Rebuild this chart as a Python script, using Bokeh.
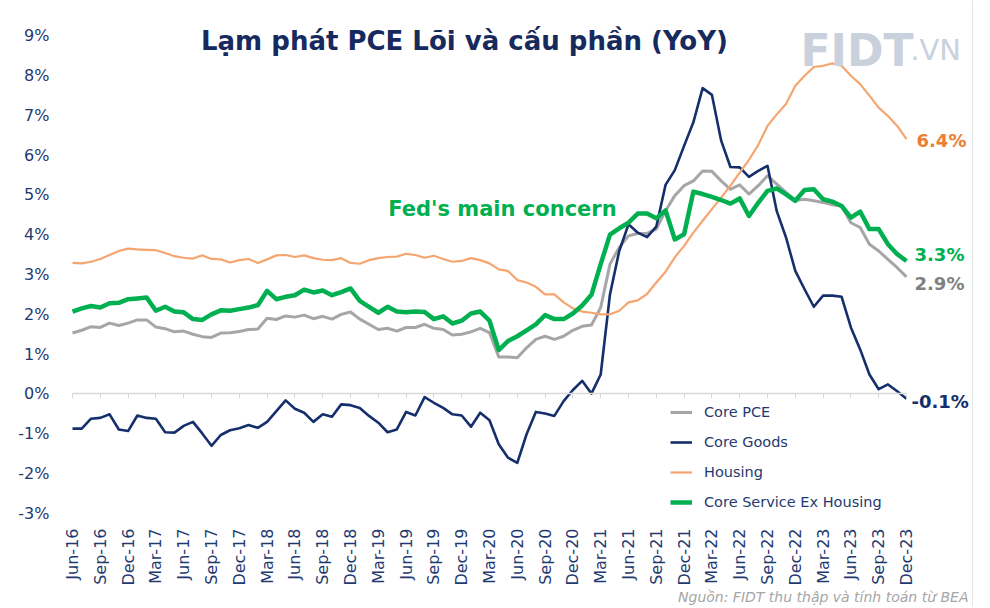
import math
from bokeh.plotting import figure
from bokeh.models import (ColumnDataSource, Range1d, FixedTicker, LinearAxis, Legend,
                          LegendItem, Label, PrintfTickFormatter, Span)
from bokeh.core.properties import value
from bokeh.embed import file_html
from bokeh.resources import INLINE

# ---------------- data (monthly, Jun-16 .. Dec-23, YoY %) ----------------
tick_labels = ["Jun-16", "Sep-16", "Dec-16", "Mar-17", "Jun-17", "Sep-17", "Dec-17",
               "Mar-18", "Jun-18", "Sep-18", "Dec-18", "Mar-19", "Jun-19", "Sep-19",
               "Dec-19", "Mar-20", "Jun-20", "Sep-20", "Dec-20", "Mar-21", "Jun-21",
               "Sep-21", "Dec-21", "Mar-22", "Jun-22", "Sep-22", "Dec-22", "Mar-23",
               "Jun-23", "Sep-23", "Dec-23"]

core_pce = [1.53, 1.60, 1.69, 1.67, 1.78, 1.72, 1.78, 1.86, 1.86, 1.68, 1.64, 1.56, 1.58, 1.50,
            1.44, 1.42, 1.53, 1.54, 1.57, 1.62, 1.63, 1.90, 1.87, 1.96, 1.93, 1.98, 1.89, 1.95,
            1.88, 2.00, 2.06, 1.88, 1.75, 1.62, 1.65, 1.58, 1.67, 1.67, 1.75, 1.65, 1.62, 1.48,
            1.50, 1.56, 1.65, 1.54, 0.93, 0.93, 0.91, 1.16, 1.37, 1.45, 1.37, 1.45, 1.60, 1.70,
            1.73, 2.17, 3.26, 3.68, 3.97, 4.03, 4.03, 4.14, 4.60, 4.98, 5.23, 5.35, 5.60, 5.59,
            5.35, 5.14,
            5.25, 5.02, 5.23, 5.48, 5.27, 5.06, 4.86, 4.89, 4.85, 4.81, 4.75, 4.72, 4.30, 4.18,
            3.76, 3.59, 3.38, 3.17, 2.94]

core_goods = [-0.87, -0.87, -0.62, -0.60, -0.51, -0.89, -0.93, -0.54, -0.60, -0.62, -0.96, -0.97,
              -0.80, -0.70, -0.99, -1.30, -1.03, -0.91, -0.86, -0.78, -0.85, -0.70, -0.43, -0.16,
              -0.37, -0.47, -0.70, -0.51,
              -0.57, -0.26, -0.28, -0.35, -0.55, -0.72, -0.96, -0.89, -0.45, -0.54, -0.08, -0.22,
              -0.35, -0.51, -0.54, -0.82, -0.47, -0.66, -1.26, -1.60, -1.73, -1.01, -0.45, -0.49,
              -0.55, -0.18, 0.10, 0.33,
              0.01, 0.49, 2.50, 3.59, 4.26, 4.05, 3.94, 4.20, 5.25, 5.62, 6.23, 6.82, 7.68, 7.51,
              6.36, 5.70,
              5.69, 5.45, 5.60, 5.73, 4.59, 3.93, 3.09, 2.63, 2.19, 2.47, 2.47, 2.44, 1.67, 1.12,
              0.49, 0.12, 0.24, 0.07, -0.12]

housing = [3.29, 3.28, 3.32, 3.39, 3.49, 3.59, 3.65, 3.63, 3.62, 3.61, 3.54, 3.46, 3.42, 3.40,
           3.48, 3.39, 3.38, 3.30, 3.36, 3.39, 3.29, 3.38, 3.48, 3.49, 3.44, 3.48, 3.41, 3.37,
           3.36, 3.41, 3.29, 3.27, 3.36, 3.41, 3.44, 3.45, 3.52, 3.49, 3.42, 3.47, 3.39, 3.32,
           3.34, 3.41, 3.36, 3.28, 3.13, 3.09, 2.86, 2.80, 2.69, 2.50, 2.50, 2.30, 2.15, 2.07,
           2.04, 2.00, 2.00, 2.09, 2.30, 2.35, 2.51, 2.80, 3.07, 3.43, 3.72, 4.05, 4.35, 4.64,
           4.93, 5.23,
           5.56, 5.88, 6.25, 6.73, 7.02, 7.28, 7.74, 7.99, 8.21, 8.24, 8.30, 8.24, 7.99, 7.78,
           7.49, 7.19, 6.98, 6.73, 6.40]

core_services_ex_housing = [2.07, 2.15, 2.21, 2.17, 2.28, 2.29, 2.38, 2.40, 2.42, 2.09, 2.19, 2.07,
                            2.05, 1.88, 1.86, 2.00, 2.10, 2.09, 2.13, 2.17, 2.23, 2.59, 2.38, 2.44,
                            2.48, 2.62, 2.55, 2.60,
                            2.48, 2.56, 2.65, 2.34, 2.19, 2.04, 2.19, 2.07, 2.05, 2.07, 2.06, 1.88,
                            1.95, 1.77, 1.84, 2.02, 2.07, 1.84, 1.10, 1.33, 1.45, 1.60, 1.75, 1.98,
                            1.88, 1.88, 2.02, 2.22,
                            2.49, 3.26, 4.00, 4.16, 4.30, 4.53, 4.53, 4.41, 4.61, 3.88, 4.01, 5.08,
                            5.02, 4.95, 4.87, 4.78,
                            4.91, 4.47, 4.80, 5.10, 5.16, 5.01, 4.85, 5.12, 5.14, 4.89, 4.83, 4.72,
                            4.43, 4.58, 4.14, 4.14, 3.76, 3.51, 3.34]

x = list(range(len(core_pce)))
tick_pos = [3 * k for k in range(len(tick_labels))]
y_ticks = list(range(-3, 10))

NAVY_TXT = "#1f3a70"
C_PCE, C_GOODS, C_HOUSING, C_SERV = "#a6a6a6", "#142f6b", "#f4a570", "#00b050"
FONT = "DejaVu Sans"

src = ColumnDataSource(dict(x=x, core_pce=core_pce, core_goods=core_goods,
                            housing=housing, serv=core_services_ex_housing))

p = figure(width=988, height=606, output_backend="svg", toolbar_location=None,
           x_range=Range1d(-0.863, 98.85), y_range=Range1d(-5.335, 9.879),
           min_border_left=64, min_border_right=0, min_border_top=0, min_border_bottom=0)
p.outline_line_color = None
p.grid.visible = False
p.background_fill_color = "white"
p.border_fill_color = "white"

# y axis
p.yaxis.ticker = FixedTicker(ticks=y_ticks)
p.yaxis.formatter = PrintfTickFormatter(format="%d%%")
p.yaxis.axis_line_color = None
p.yaxis.major_tick_line_color = None
p.yaxis.minor_tick_line_color = None
p.yaxis.major_label_standoff = 9
p.yaxis.major_label_text_font = FONT
p.yaxis.major_label_text_font_size = "16px"
p.yaxis.major_label_text_color = NAVY_TXT

# x axis: category labels under the bottom of the value range
p.xaxis.fixed_location = y_ticks[0]
p.xaxis.ticker = FixedTicker(ticks=tick_pos)
p.xaxis.major_label_overrides = {t: l for t, l in zip(tick_pos, tick_labels)}
p.xaxis.major_label_orientation = math.pi / 2
p.xaxis.axis_line_color = None
p.xaxis.major_tick_line_color = None
p.xaxis.minor_tick_line_color = None
p.xaxis.major_label_standoff = 9
p.xaxis.major_label_text_font = FONT
p.xaxis.major_label_text_font_size = "16px"
p.xaxis.major_label_text_color = NAVY_TXT

# zero line axis with tick marks
zax = LinearAxis(fixed_location=0, ticker=FixedTicker(ticks=tick_pos), bounds=(0, len(x) - 1),
                 axis_line_color="#d9d9d9", axis_line_width=1.5,
                 major_tick_line_color="#d9d9d9", major_tick_in=0, major_tick_out=5,
                 minor_tick_line_color=None, major_label_text_font_size="0px",
                 major_label_overrides={t: "" for t in tick_pos})
p.add_layout(zax, "below")

# thin right border of the chart image
p.add_layout(Span(location=97.12, dimension="height", line_color="#e4e4e4", line_width=1))

r_pce = p.line("x", "core_pce", source=src, line_color=C_PCE, line_width=3, line_join="round")
r_goods = p.line("x", "core_goods", source=src, line_color=C_GOODS, line_width=2.6, line_join="round")
r_house = p.line("x", "housing", source=src, line_color=C_HOUSING, line_width=2.2, line_join="round")
r_serv = p.line("x", "serv", source=src, line_color=C_SERV, line_width=4.5, line_join="round")

# end-of-line value labels
for arr, col, dx, dy in [(housing, "#ed7d31", 10, 1), (core_services_ex_housing, C_SERV, 8, -6),
                         (core_pce, "#808080", 8, 7), (core_goods, C_GOODS, 5, 3)]:
    p.text(x=[x[-1]], y=[arr[-1]], text=[f"{arr[-1]:.1f}%"], x_offset=dx, y_offset=dy,
           text_font=value(FONT), text_font_style="bold", text_font_size="18px",
           text_baseline="middle", text_align="left", text_color=col)

legend = Legend(items=[LegendItem(label="Core PCE", renderers=[r_pce]),
                       LegendItem(label="Core Goods", renderers=[r_goods]),
                       LegendItem(label="Housing", renderers=[r_house]),
                       LegendItem(label="Core Service Ex Housing", renderers=[r_serv])],
                location=(606, 94), orientation="vertical",
                border_line_color=None, background_fill_alpha=0,
                label_text_font=FONT, label_text_font_size="14.5px", label_text_color=NAVY_TXT,
                glyph_width=22, glyph_height=20, label_height=20, spacing=10,
                padding=5, margin=0, label_standoff=12)
p.add_layout(legend, "center")

p.add_layout(Label(x=42.3, y=8.874, text="Lạm phát PCE Lõi và cấu phần (YoY)",
                   text_align="center", text_baseline="middle", text_font=FONT,
                   text_font_style="bold", text_font_size="26px", text_color="#172a5e"))
p.add_layout(Label(x=46.4, y=4.657, text="Fed's main concern", text_align="center",
                   text_baseline="middle", text_font=FONT, text_font_style="bold",
                   text_font_size="21px", text_color=C_SERV))
p.add_layout(Label(x=78.56, y=8.624, text="FIDT", text_align="left", text_baseline="alphabetic",
                   text_font=FONT, text_font_style="bold",
                   text_font_size="44px", text_color="#c9d1dc"))
p.add_layout(Label(x=90.4, y=8.624, text=".VN", text_align="left", text_baseline="alphabetic",
                   text_font=FONT, text_font_size="29px",
                   text_color="#c9d1dc"))
p.add_layout(Label(x=96.69, y=-5.109, text="Nguồn: FIDT thu thập và tính toán từ BEA",
                   text_align="right", text_baseline="middle", text_font=FONT,
                   text_font_style="italic", text_font_size="14px", text_color="#a6a6a6"))

open("out.html", "w").write(file_html(p, INLINE))
